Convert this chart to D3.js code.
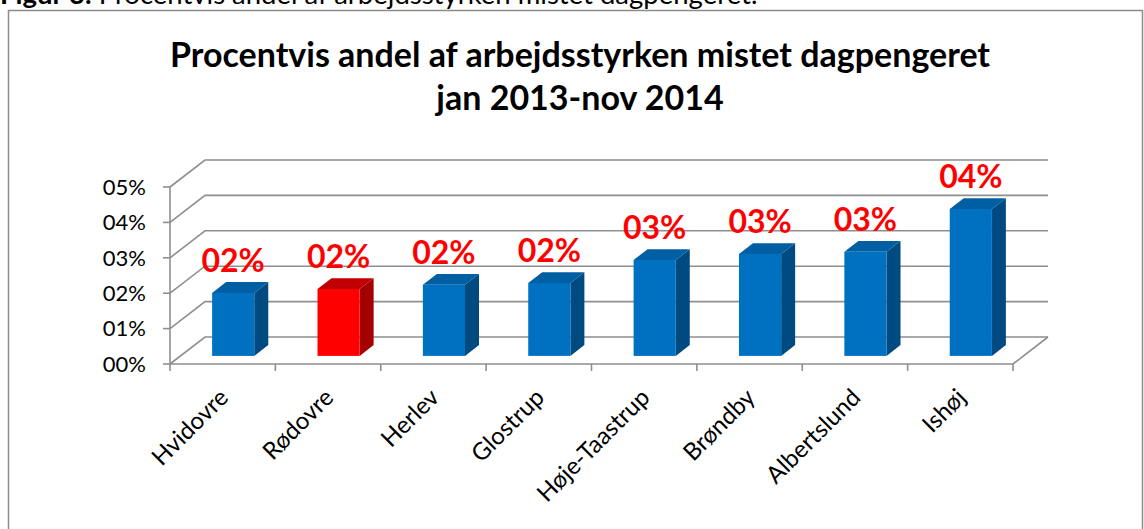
<!DOCTYPE html>
<html>
<head>
<meta charset="utf-8">
<script src="https://cdn.jsdelivr.net/npm/d3@7"></script>
<style>
  body { margin: 0; background: #fff; }
  svg { display: block; font-family: Lato, 'Open Sans', sans-serif; }
</style>
</head>
<body>
<div id="chart"></div>
<script>
// data (percent of the labour force)
const municipalities = ['Hvidovre', 'Rødovre', 'Herlev', 'Glostrup', 'Høje-Taastrup', 'Brøndby', 'Albertslund', 'Ishøj'];
const shares = [1.78, 1.89, 2.01, 2.06, 2.71, 2.88, 2.94, 4.15];
const highlighted = ['Rødovre'];
const yTicks = [0, 1, 2, 3, 4, 5];
const titleLines = ['Procentvis andel af arbejdsstyrken mistet dagpengeret', 'jan 2013-nov 2014'];

const width = 1144,
  height = 529;

const svg = d3
  .select('#chart')
  .append('svg')
  .attr('width', width)
  .attr('height', height);

// caption above the frame (cut off by the page edge, as in the source)
const cap = svg.append('text').attr('x', 0).attr('y', 4).style('font-size', '27.5px').attr('fill', '#000');
cap.append('tspan').attr('font-weight', 'bold').text('Figur 3: ');
cap.append('tspan').text('Procentvis andel af arbejdsstyrken mistet dagpengeret.');

// chart frame
svg
  .append('rect')
  .attr('x', 8.5)
  .attr('y', 10.5)
  .attr('width', 1134)
  .attr('height', 540)
  .attr('fill', 'none')
  .attr('stroke', '#8c8c8c')
  .attr('stroke-width', 1.5);

// title
svg
  .selectAll('.title')
  .data(titleLines)
  .join('text')
  .attr('class', 'title')
  .attr('x', 580)
  .attr('y', (d, i) => 67 + i * 43)
  .attr('text-anchor', 'middle')
  .style('font-size', '34px')
  .style('font-weight', 'bold')
  .text((d) => d);

// 3d geometry: front plane and depth offset
const depth = { dx: 35, dy: -27 };
const x = d3.scaleBand().domain(municipalities).range([170, 1013]).padding(0);
const y = d3.scaleLinear().domain([0, 5]).range([364, 187]);
const fmt = (v) => String(Math.round(v)).padStart(2, '0') + '%';

const grid = svg.append('g').attr('stroke', '#8f8f8f').attr('stroke-width', 1.6).attr('fill', 'none');
const x0 = x.range()[0],
  x1 = x.range()[1];

// side wall diagonals and back wall gridlines
yTicks.forEach((t) => {
  grid
    .append('path')
    .attr('d', `M${x0},${y(t)}L${x0 + depth.dx},${y(t) + depth.dy}L${x1 + depth.dx},${y(t) + depth.dy}`);
});
// floor front edge and right edge
grid.append('path').attr('d', `M${x0},${y(0)}L${x1},${y(0)}L${x1 + depth.dx},${y(0) + depth.dy}`);
// vertical axis
grid.append('path').attr('d', `M${x0},${y(0)}L${x0},${y(5)}`);
// y ticks
yTicks.forEach((t) => {
  grid.append('path').attr('d', `M${x0 - 7},${y(t)}L${x0},${y(t)}`);
});
// x ticks at band edges
d3.range(municipalities.length + 1).forEach((i) => {
  const xx = x0 + i * x.bandwidth();
  grid.append('path').attr('d', `M${xx},${y(0)}L${xx},${y(0) + 7}`);
});

// y tick labels
svg
  .selectAll('.ytick')
  .data(yTicks)
  .join('text')
  .attr('class', 'ytick')
  .attr('x', 146)
  .attr('y', (d) => y(d))
  .attr('dy', '0.35em')
  .attr('text-anchor', 'end')
  .style('font-size', '22px')
  .text((d) => fmt(d));

// bars: front face sits 30% into the depth, bar is 40% deep
const f0 = 0.3,
  f1 = 0.7;
const data = municipalities.map((m, i) => ({ name: m, value: shares[i] }));
const colors = (d) =>
  highlighted.includes(d.name)
    ? { front: '#ff0000', top: '#c00000', side: '#a40000' }
    : { front: '#0070c0', top: '#005ea3', side: '#004a82' };

const bars = svg.append('g').selectAll('g').data(data).join('g');
bars.each(function (d) {
  const g = d3.select(this);
  const c = colors(d);
  const bx = x(d.name) + x.bandwidth() * 0.3 + depth.dx * f0;
  const bw = x.bandwidth() * 0.4;
  const yb = y(0) + depth.dy * f0;
  const yt = y(d.value) + depth.dy * f0;
  const ddx = depth.dx * (f1 - f0),
    ddy = depth.dy * (f1 - f0);
  g.append('path')
    .attr('d', `M${bx + bw},${yt}L${bx + bw + ddx},${yt + ddy}L${bx + bw + ddx},${yb + ddy}L${bx + bw},${yb}Z`)
    .attr('fill', c.side);
  g.append('path')
    .attr('d', `M${bx},${yt}L${bx + ddx},${yt + ddy}L${bx + bw + ddx},${yt + ddy}L${bx + bw},${yt}Z`)
    .attr('fill', c.top);
  g.append('rect')
    .attr('x', bx)
    .attr('y', yt)
    .attr('width', bw)
    .attr('height', yb - yt)
    .attr('fill', c.front);
  // value label
  g.append('text')
    .attr('x', bx + bw / 2)
    .attr('y', yt - 21)
    .attr('text-anchor', 'middle')
    .attr('fill', '#ff0000')
    .style('font-size', '32px')
    .style('font-weight', 'bold')
    .text(fmt(d.value));
});

// category labels, rotated
svg
  .selectAll('.xlab')
  .data(municipalities)
  .join('text')
  .attr('class', 'xlab')
  .attr('transform', (d) => `translate(${x(d) + x.bandwidth() / 2 + 7},${399}) rotate(-45)`)
  .attr('text-anchor', 'end')
  .style('font-size', '24px')
  .text((d) => d);
</script>
</body>
</html>
